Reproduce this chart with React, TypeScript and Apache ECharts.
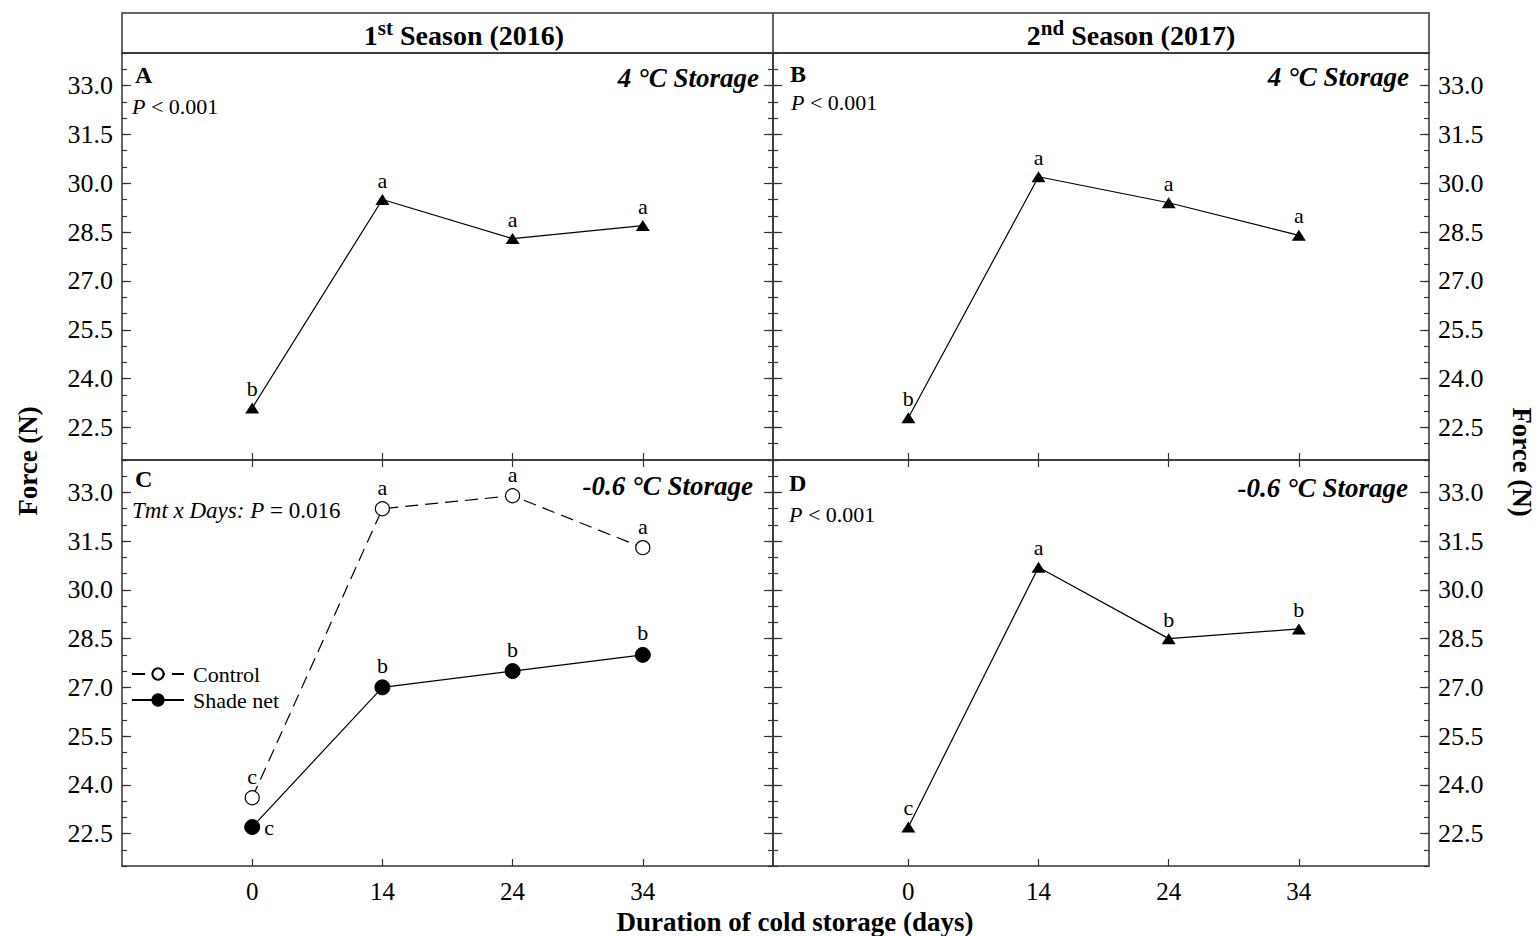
import React, { useEffect, useRef } from "react";
import * as echarts from "echarts";

// Storage days (plotted at evenly spaced positions)
const dayLabels = ["0", "14", "24", "34"];
const dayIndex = [0, 1, 2, 3];

// Panel A: 1st season, 4 °C storage
const forceA = [23.1, 29.5, 28.3, 28.7];
const lettersA = ["b", "a", "a", "a"];
// Panel B: 2nd season, 4 °C storage
const forceB = [22.8, 30.2, 29.4, 28.4];
const lettersB = ["b", "a", "a", "a"];
// Panel C: 1st season, -0.6 °C storage
const forceCControl = [23.6, 32.5, 32.9, 31.3];
const lettersCControl = ["c", "a", "a", "a"];
const forceCShade = [22.7, 27.0, 27.5, 28.0];
const lettersCShade = ["c", "b", "b", "b"];
// Panel D: 2nd season, -0.6 °C storage
const forceD = [22.7, 30.7, 28.5, 28.8];
const lettersD = ["c", "a", "b", "b"];

const yMajorTicks = [22.5, 24, 25.5, 27, 28.5, 30, 31.5, 33];
const Y_MIN = 21.5;
const Y_MAX = 34;

const FONT = "'Liberation Serif', 'Times New Roman', serif";
const AXIS_COLOR = "#333";

const grids = [
  { left: 122, top: 53, width: 651, height: 407 },
  { left: 773, top: 53, width: 656, height: 407 },
  { left: 122, top: 460, width: 651, height: 406 },
  { left: 773, top: 460, width: 656, height: 406 },
];
const xRanges = [
  [-1, 4],
  [-1.04, 4],
  [-1, 4],
  [-1.04, 4],
];

function buildAxes() {
  const xAxis: any[] = [];
  const yAxis: any[] = [];
  grids.forEach((_, g) => {
    const isLeft = g % 2 === 0;
    const isBottom = g >= 2;
    const line = { show: true, onZero: false, lineStyle: { color: AXIS_COLOR, width: 1.5 } };
    xAxis.push({
      type: "value",
      gridIndex: g,
      position: "bottom",
      min: xRanges[g][0],
      max: xRanges[g][1],
      axisLine: line,
      axisTick: { show: true, inside: true, length: 7, customValues: dayIndex, lineStyle: { color: AXIS_COLOR, width: 1.2 } },
      axisLabel: {
        show: isBottom,
        customValues: dayIndex,
        formatter: (v: number) => dayLabels[Math.round(v)],
        margin: 13,
        fontFamily: FONT,
        fontSize: 25,
        color: "#000",
      },
      splitLine: { show: false },
    });
    xAxis.push({
      type: "value",
      gridIndex: g,
      position: "top",
      min: xRanges[g][0],
      max: xRanges[g][1],
      axisLine: line,
      axisTick: { show: isBottom, inside: true, length: 7, customValues: dayIndex, lineStyle: { color: AXIS_COLOR, width: 1.2 } },
      axisLabel: { show: false },
      splitLine: { show: false },
    });
    (["left", "right"] as const).forEach((side) => {
      const labelled = (side === "left" && isLeft) || (side === "right" && !isLeft);
      yAxis.push({
        type: "value",
        gridIndex: g,
        position: side,
        min: Y_MIN,
        max: Y_MAX,
        axisLine: line,
        axisTick: { show: true, inside: true, length: 9, customValues: yMajorTicks, lineStyle: { color: AXIS_COLOR, width: 1.2 } },
        axisLabel: {
          show: labelled,
          customValues: yMajorTicks,
          formatter: (v: number) => v.toFixed(1),
          margin: 9,
          fontFamily: FONT,
          fontSize: 26,
          color: "#000",
        },
        splitLine: { show: false },
      });
      yAxis.push({
        type: "value",
        gridIndex: g,
        position: side,
        min: Y_MIN,
        max: Y_MAX,
        interval: 0.5,
        axisLine: { show: false, onZero: false },
        axisTick: { show: true, inside: true, length: 5, lineStyle: { color: AXIS_COLOR, width: 1.2 } },
        axisLabel: { show: false },
        splitLine: { show: false },
      });
    });
  });
  return { xAxis, yAxis };
}

const letterLabel = (letters: string[]) => ({
  show: true,
  position: "top",
  distance: 3,
  formatter: (p: any) => letters[p.dataIndex],
  fontFamily: FONT,
  fontSize: 22,
  color: "#000",
});

function triangleSeries(name: string, g: number, values: number[], letters: string[]) {
  return {
    name,
    type: "line",
    xAxisIndex: g * 2,
    yAxisIndex: g * 4,
    data: values.map((v, i) => [dayIndex[i], v]),
    symbol: "triangle",
    symbolSize: [14, 11],
    itemStyle: { color: "#000" },
    lineStyle: { color: "#000", width: 1.2 },
    label: letterLabel(letters),
    z: 3,
  };
}

function panelText(x: number, y: number, text: string, opts: any = {}) {
  return {
    type: "text",
    x,
    y,
    style: {
      text,
      fontFamily: FONT,
      fontSize: 22,
      fill: "#000",
      textAlign: "left",
      textVerticalAlign: "middle",
      ...opts,
    },
  };
}

const italicRich = {
  i: { fontFamily: FONT, fontSize: 22, fontStyle: "italic", fill: "#000" },
  r: { fontFamily: FONT, fontSize: 22, fill: "#000" },
};

const italicRichWide = {
  i: { fontFamily: FONT, fontSize: 23, fontStyle: "italic", fill: "#000" },
  r: { fontFamily: FONT, fontSize: 23, fill: "#000" },
};

const headerRich = {
  n: { fontFamily: FONT, fontSize: 28, fontWeight: "bold", lineHeight: 36, fill: "#000" },
  s: { fontFamily: FONT, fontSize: 21, fontWeight: "bold", lineHeight: 18, verticalAlign: "top", fill: "#000" },
};

const storageStyle = { fontWeight: "bold", fontStyle: "italic", fontSize: 27, textAlign: "right" };

export default function App() {
  const ref = useRef<HTMLDivElement>(null);

  useEffect(() => {
    if (!ref.current) return;
    const chart = echarts.init(ref.current, null, { renderer: "svg" });
    const { xAxis, yAxis } = buildAxes();

    const series: any[] = [
      triangleSeries("A", 0, forceA, lettersA),
      triangleSeries("B", 1, forceB, lettersB),
      {
        name: "Control",
        type: "line",
        xAxisIndex: 4,
        yAxisIndex: 8,
        data: forceCControl.map((v, i) => [dayIndex[i], v]),
        symbol: "circle",
        symbolSize: 14,
        itemStyle: { color: "#fff", borderColor: "#000", borderWidth: 1.2 },
        lineStyle: { color: "#000", width: 1.2, type: [13, 7] },
        label: letterLabel(lettersCControl),
        z: 3,
      },
      {
        name: "Shade net",
        type: "line",
        xAxisIndex: 4,
        yAxisIndex: 8,
        data: forceCShade.map((v, i) =>
          i === 0
            ? { value: [dayIndex[i], v], label: { position: "right", distance: 4 } }
            : [dayIndex[i], v]
        ),
        symbol: "circle",
        symbolSize: 15,
        itemStyle: { color: "#000", borderColor: "#000", borderWidth: 1 },
        lineStyle: { color: "#000", width: 1.2 },
        label: letterLabel(lettersCShade),
        z: 4,
      },
      triangleSeries("D", 3, forceD, lettersD),
    ];

    const graphic: any[] = [
      // header band
      {
        type: "rect",
        shape: { x: 122, y: 13, width: 1307, height: 40 },
        style: { fill: "none", stroke: AXIS_COLOR, lineWidth: 1.5 },
      },
      {
        type: "line",
        shape: { x1: 773, y1: 13, x2: 773, y2: 53 },
        style: { stroke: AXIS_COLOR, lineWidth: 1.5 },
      },
      {
        type: "text",
        x: 464,
        y: 35,
        style: { text: "{n|1}{s|st}{n| Season (2016)}", rich: headerRich, textAlign: "center", textVerticalAlign: "middle" },
      },
      {
        type: "text",
        x: 1131,
        y: 35,
        style: { text: "{n|2}{s|nd}{n| Season (2017)}", rich: headerRich, textAlign: "center", textVerticalAlign: "middle" },
      },
      // panel letters
      panelText(135, 75, "A", { fontWeight: "bold", fontSize: 24 }),
      panelText(790, 74, "B", { fontWeight: "bold", fontSize: 24 }),
      panelText(135, 479, "C", { fontWeight: "bold", fontSize: 24 }),
      panelText(789, 483, "D", { fontWeight: "bold", fontSize: 24 }),
      // statistics
      panelText(132, 106, "{i|P}{r| < 0.001}", { rich: italicRich }),
      panelText(791, 102, "{i|P}{r| < 0.001}", { rich: italicRich }),
      panelText(789, 514, "{i|P}{r| < 0.001}", { rich: italicRich }),
      panelText(132, 510, "{i|Tmt x Days: P}{r| = 0.016}", { rich: italicRichWide }),
      // storage temperature
      panelText(759, 78, "4 °C Storage", storageStyle),
      panelText(1409, 77, "4 °C Storage", storageStyle),
      panelText(753, 486, "-0.6 °C Storage", storageStyle),
      panelText(1408, 488, "-0.6 °C Storage", storageStyle),
      // axis titles
      {
        type: "text",
        x: 28,
        y: 461,
        rotation: Math.PI / 2,
        style: { text: "Force (N)", fontFamily: FONT, fontWeight: "bold", fontSize: 27, fill: "#000", textAlign: "center", textVerticalAlign: "middle" },
      },
      {
        type: "text",
        x: 1522,
        y: 462,
        rotation: -Math.PI / 2,
        style: { text: "Force (N)", fontFamily: FONT, fontWeight: "bold", fontSize: 27, fill: "#000", textAlign: "center", textVerticalAlign: "middle" },
      },
      {
        type: "text",
        x: 795,
        y: 922,
        style: {
          text: "Duration of cold storage (days)",
          fontFamily: FONT,
          fontWeight: "bold",
          fontSize: 27,
          fill: "#000",
          textAlign: "center",
          textVerticalAlign: "middle",
        },
      },
    ];

    chart.setOption({
      animation: false,
      backgroundColor: "#fff",
      grid: grids.map((g) => ({ ...g, containLabel: false })),
      xAxis,
      yAxis,
      series,
      legend: {
        data: ["Control", "Shade net"],
        orient: "vertical",
        left: 126,
        top: 658,
        itemWidth: 52,
        itemHeight: 14,
        itemGap: 4,
        textStyle: { fontFamily: FONT, fontSize: 22, color: "#000", padding: [0, 0, 0, 4] },
      },
      graphic,
    });

    return () => chart.dispose();
  }, []);

  return (
    <div
      ref={ref}
      style={{ position: "absolute", left: 0, top: 0, width: 1536, height: 936 }}
    />
  );
}
